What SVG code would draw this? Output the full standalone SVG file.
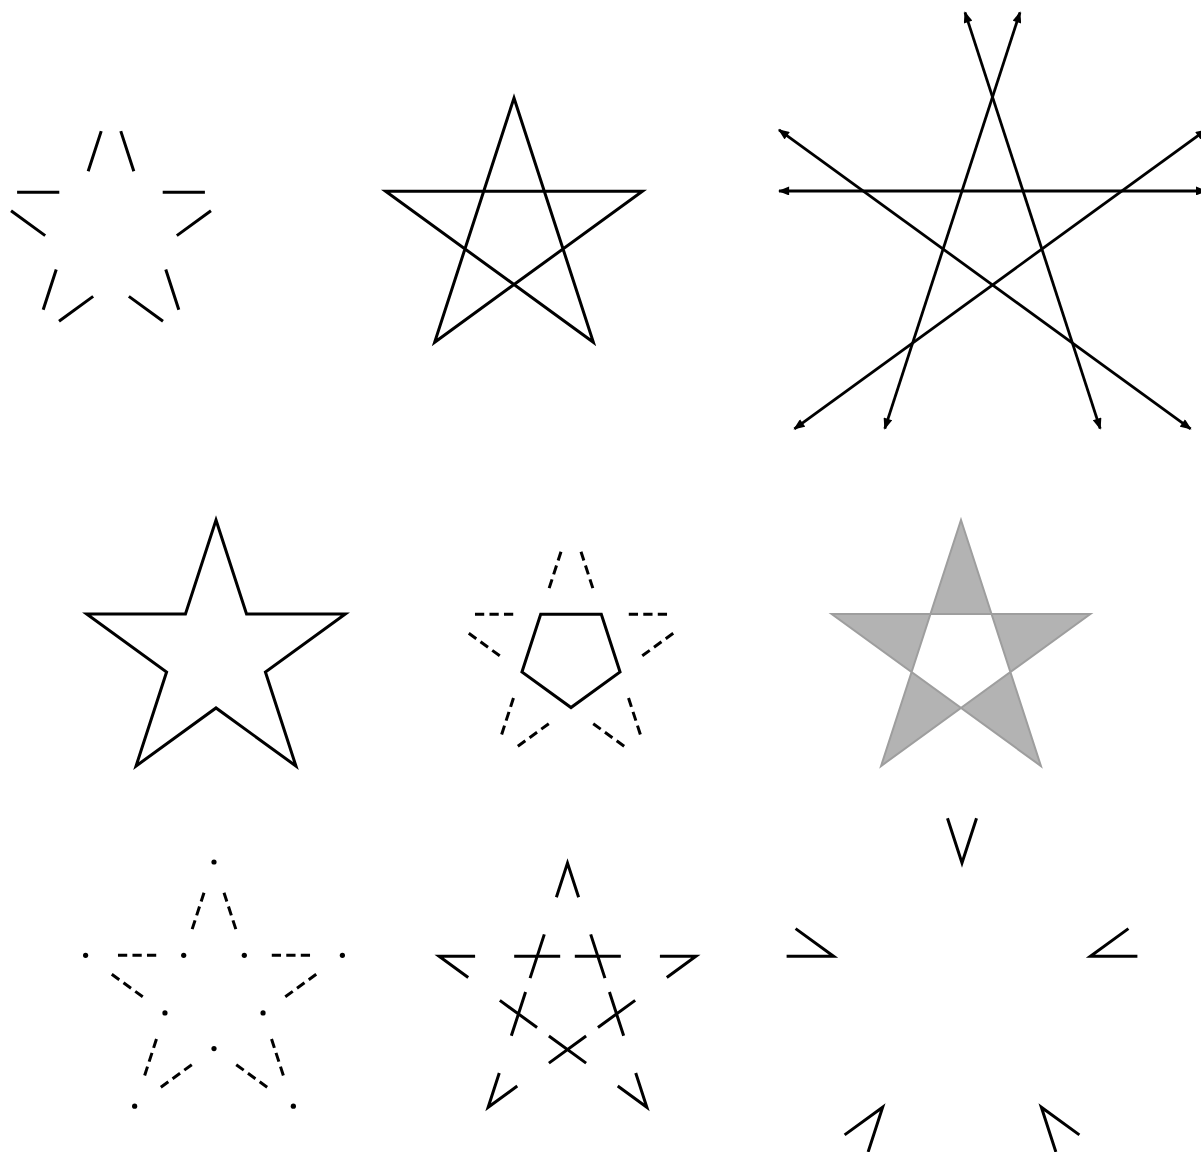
<svg xmlns="http://www.w3.org/2000/svg" width="1201" height="1152" viewBox="0 0 1201 1152">
<style>
.ln{stroke:#000;stroke-width:3;fill:none}
.dash{stroke:#000;stroke-width:3;fill:none;stroke-dasharray:9.25 5.25}
.arr{stroke:#000;stroke-width:2.8;fill:none;marker-start:url(#ah);marker-end:url(#ah)}
.dot{fill:#000}
</style>
<defs>
<marker id="ah" viewBox="0 0 10 8" refX="9" refY="4" markerWidth="12" markerHeight="9" markerUnits="userSpaceOnUse" orient="auto-start-reverse">
<path d="M0,0 L10,4 L0,8 Z" fill="#000"/>
</marker>
</defs>
<rect width="1201" height="1152" fill="#fff"/>

<g id="star-segments">
<path class="ln" d="M101.22,131.10L88.18,171.23M120.78,131.10L133.82,171.23M204.90,192.21L162.70,192.21M210.95,210.81L176.81,235.61M178.81,309.69L165.77,269.56M162.99,321.19L128.85,296.39M59.01,321.19L93.15,296.39M43.19,309.69L56.23,269.56M11.05,210.81L45.19,235.61M17.10,192.21L59.30,192.21"/>
</g>

<g id="star-pentagram">
<polygon class="ln" points="514,98 593.35,342.22 385.60,191.28 642.40,191.28 434.65,342.22"/>
</g>

<g id="star-lines">
<line class="arr" x1="779" y1="190.98" x2="1206" y2="190.98"/>
<line class="arr" x1="1020" y1="12.4" x2="884.8" y2="428.6"/>
<line class="arr" x1="965" y1="12.4" x2="1100.2" y2="428.6"/>
<line class="arr" x1="779" y1="129.8" x2="1190.6" y2="428.9"/>
<line class="arr" x1="1206" y1="129.8" x2="794.4" y2="428.9"/>
</g>

<g id="star-outline">
<polygon class="ln" points="216,520 246.54,613.97 345.35,613.98 265.41,672.05 295.94,766.02 216,707.95 136.06,766.02 166.59,672.05 86.65,613.98 185.46,613.97"/>
</g>

<g id="star-pentagon-dashed">
<polygon class="ln" points="540.69,614.28 601.31,614.28 620.05,671.94 571,707.57 521.95,671.94"/>
<path class="dash" d="M561.0,551.78L549.18,588.16M581.0,551.78L592.82,588.16M667.03,614.28L628.77,614.28M673.21,633.31L642.27,655.80M640.35,734.44L628.53,698.06M624.16,746.20L593.22,723.71M517.84,746.20L548.78,723.71M501.65,734.44L513.47,698.06M468.79,633.31L499.73,655.80M474.98,614.28L513.23,614.28"/>
</g>

<g id="star-gray">
<path d="M961,520L1040.94,766.02L831.65,613.98L1090.35,613.98L881.06,766.02Z" fill="#b3b3b3" fill-rule="evenodd" stroke="#9e9e9e" stroke-width="2" stroke-linejoin="miter"/>
</g>

<g id="star-dots">
<path class="dash" d="M204.0,892.78L192.18,929.16M224.0,892.78L235.82,929.16M310.03,955.28L271.78,955.28M316.21,974.30L285.27,996.79M283.35,1075.44L271.53,1039.05M267.16,1087.20L236.22,1064.71M160.84,1087.20L191.78,1064.71M144.65,1075.44L156.47,1039.05M111.79,974.30L142.73,996.79M117.97,955.28L156.22,955.28"/>
<circle class="dot" cx="214" cy="862" r="2.6"/>
<circle class="dot" cx="342.4" cy="955.28" r="2.6"/>
<circle class="dot" cx="293.35" cy="1106.22" r="2.6"/>
<circle class="dot" cx="134.65" cy="1106.22" r="2.6"/>
<circle class="dot" cx="85.6" cy="955.28" r="2.6"/>
<circle class="dot" cx="183.69" cy="955.28" r="2.6"/>
<circle class="dot" cx="244.31" cy="955.28" r="2.6"/>
<circle class="dot" cx="263.05" cy="1012.93" r="2.6"/>
<circle class="dot" cx="214" cy="1048.57" r="2.6"/>
<circle class="dot" cx="164.95" cy="1012.93" r="2.6"/>
</g>

<g id="star-tips-crossings">
<path class="ln" d="M556.38,897.23L567.5,863L578.62,897.23M659.90,956.28L695.90,956.28L666.78,977.44M475.10,956.28L439.10,956.28L468.22,977.44M635.73,1072.98L646.85,1107.22L617.73,1086.06M499.27,1072.98L488.15,1107.22L517.27,1086.06"/>
<path class="ln" d="M514.19,956.28L560.19,956.28M544.30,934.41L530.08,978.15M574.81,956.28L620.81,956.28M590.70,934.41L604.92,978.15M597.94,1027.45L635.16,1000.41M609.44,992.06L623.66,1035.80M537.06,1027.45L499.84,1000.41M525.56,992.06L511.34,1035.80M548.89,1036.05L586.11,1063.09M548.89,1063.09L586.11,1036.05"/>
</g>

<g id="star-extensions">
<path class="ln" d="M947.48,818.30L962,863L976.52,818.30M786.60,956.28L833.60,956.28L795.58,928.64M1137.40,956.28L1090.40,956.28L1128.42,928.64M868.13,1151.92L882.65,1107.22L844.63,1134.86M1055.87,1151.92L1041.35,1107.22L1079.37,1134.86"/>
</g>
</svg>
